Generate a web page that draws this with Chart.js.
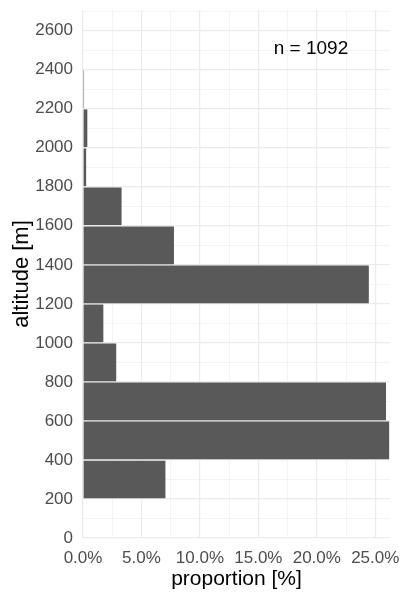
<!DOCTYPE html>
<html>
<head>
<meta charset="utf-8">
<script src="https://cdn.jsdelivr.net/npm/chart.js@4.4.0/dist/chart.umd.min.js"></script>
<style>
  html, body { margin: 0; padding: 0; background: #fff; }
  #wrap { width: 400px; height: 600px; }
</style>
</head>
<body>
<div id="wrap"><canvas id="chart"></canvas></div>
<script>
// altitude bins (lower edge, m) and proportion (%) per bin
const binStart = [200, 400, 600, 800, 1000, 1200, 1400, 1600, 1800, 2000, 2200];
const binWidth = 200;
const proportion = [7.05, 26.19, 25.92, 2.84, 1.74, 24.45, 7.78, 3.30, 0.27, 0.37, 0.09];
const sampleSize = 1092;

// grid / tick positions (major ones get a label)
const yTicks = [0, 100, 200, 300, 400, 500, 600, 700, 800, 900, 1000, 1100, 1200, 1300,
  1400, 1500, 1600, 1700, 1800, 1900, 2000, 2100, 2200, 2300, 2400, 2500, 2600, 2700];
const xTicks = [0, 2.5, 5, 7.5, 10, 12.5, 15, 17.5, 20, 22.5, 25];

const xMax = 26.26;
const yMax = 2706;

const barData = binStart.map((b, i) => ({ y: b + binWidth / 2, x: proportion[i] }));

const gridColor = '#ebebeb';
const tickColor = '#4d4d4d';
const fontFamily = '"Liberation Sans", Arial, sans-serif';

const isMajorX = v => Math.abs(v % 5) < 1e-6;
const isMajorY = v => Math.abs(v % 200) < 1e-6;

// no extra room for overflowing tick labels, the layout padding is enough
const noPad = s => { s.paddingTop = 0; s.paddingBottom = 0; s.paddingLeft = 0; s.paddingRight = 0; };

// n = ... label in the top right corner
const nLabel = {
  id: 'nLabel',
  afterDraw(chart) {
    const { ctx, scales } = chart;
    ctx.save();
    ctx.font = '19px ' + fontFamily;
    ctx.fillStyle = '#000';
    ctx.textAlign = 'center';
    ctx.textBaseline = 'middle';
    ctx.fillText('n = ' + sampleSize, scales.x.getPixelForValue(19.5), scales.y.getPixelForValue(2505));
    ctx.restore();
  }
};

new Chart(document.getElementById('chart'), {
  type: 'bar',
  data: {
    datasets: [{
      data: barData,
      backgroundColor: '#595959',
      borderWidth: 0,
      categoryPercentage: 1,
      // bar size is measured against the 100 m tick spacing, bins are 200 m wide
      barPercentage: 1.93
    }]
  },
  options: {
    indexAxis: 'y',
    responsive: true,
    maintainAspectRatio: false,
    animation: false,
    layout: { padding: { left: 0, right: 10, top: 10, bottom: 0 } },
    plugins: { legend: { display: false }, tooltip: { enabled: false } },
    scales: {
      x: {
        type: 'linear',
        min: 0,
        max: xMax,
        border: { display: false },
        grid: {
          drawTicks: false,
          color: gridColor,
          lineWidth: c => (c.tick && isMajorX(c.tick.value) ? 1.2 : 0.6)
        },
        afterBuildTicks: s => { s.ticks = xTicks.map(v => ({ value: v })); },
        ticks: {
          autoSkip: false,
          maxRotation: 0,
          padding: 10,
          color: tickColor,
          font: { size: 17, family: fontFamily },
          callback: v => (isMajorX(v) ? v.toFixed(1) + '%' : '')
        },
        title: {
          display: true,
          text: 'proportion [%]',
          color: '#000',
          padding: { top: 0, bottom: 8 },
          font: { size: 21, family: fontFamily }
        },
        afterFit: s => { s.height = 62; noPad(s); }
      },
      y: {
        type: 'linear',
        min: 0,
        max: yMax,
        offset: false,
        border: { display: false },
        grid: {
          offset: false,
          drawTicks: false,
          color: gridColor,
          lineWidth: c => (c.tick && isMajorY(c.tick.value) ? 1.2 : 0.6)
        },
        afterBuildTicks: s => { s.ticks = yTicks.map(v => ({ value: v })); },
        ticks: {
          autoSkip: false,
          padding: 10,
          color: tickColor,
          font: { size: 17, family: fontFamily },
          callback: v => (isMajorY(v) ? String(v) : '')
        },
        title: {
          display: true,
          text: 'altitude [m]',
          color: '#000',
          padding: { top: 9, bottom: 0 },
          font: { size: 22, family: fontFamily }
        },
        afterFit: s => { s.width = 83; noPad(s); }
      }
    }
  },
  plugins: [nLabel]
});
</script>
</body>
</html>
